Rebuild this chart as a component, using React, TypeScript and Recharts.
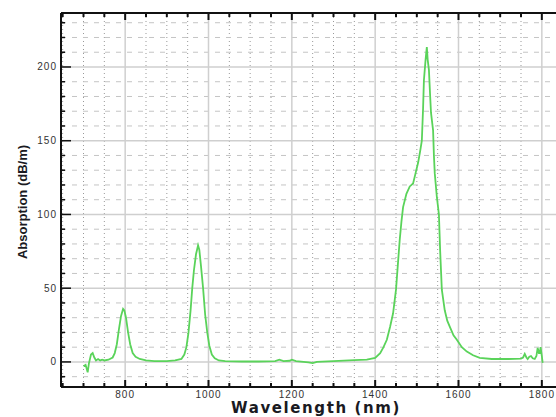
import React from 'react';
import { LineChart, Line, XAxis, YAxis, CartesianGrid } from 'recharts';

// absorption spectrum
const wavelengths = [
  700, 705, 710, 713, 718, 722, 726, 730, 735, 740, 745, 750, 760, 770, 775, 780, 785, 790, 795, 798,
  802, 807, 812, 818, 825, 835, 850, 870, 900, 920, 935, 942, 947, 952, 957, 961, 965, 970, 975, 978,
  982, 987, 992, 997, 1002, 1008, 1015, 1025, 1040, 1080, 1120, 1160, 1170, 1180, 1195, 1200, 1210, 1240, 1250, 1260,
  1300, 1350, 1380, 1400, 1412, 1420, 1428, 1436, 1443, 1450, 1455, 1459, 1463, 1467, 1475, 1483, 1491, 1497, 1503, 1508,
  1512, 1515, 1517, 1521, 1524, 1526, 1529, 1532, 1534, 1539, 1541, 1543, 1548, 1553, 1556, 1560, 1567, 1573, 1579, 1588,
  1596, 1608, 1620, 1635, 1651, 1680, 1720, 1750, 1755, 1759, 1763, 1766, 1770, 1774, 1778, 1783, 1787, 1790, 1793, 1795,
  1797, 1800, 1802,
];
const absorption = [
  -3, -2, -7, -1, 5, 6, 3, 1, 2, 1, 1.5, 1, 1.5, 3, 6, 12, 22, 31, 36, 35,
  30, 20, 12, 6, 3.5, 2, 1, 0.5, 0.5, 1, 2, 5, 10, 20, 35, 50, 62, 73, 79, 76,
  65, 50, 32, 20, 11, 5, 2.5, 1, 0.5, 0.3, 0.3, 0.5, 1.5, 0.6, 0.8, 1.5, 0.6, -0.3, -0.8, 0,
  0.6, 1.2, 1.5, 2.7, 6, 10, 15, 24, 33, 49, 68, 83, 95, 105, 114, 119, 121, 128, 135, 143,
  150, 172, 191, 205, 213.5, 205, 198, 180, 169, 157, 140, 128, 112, 100, 75, 49, 35, 28, 24, 18,
  15, 10, 7, 4.5, 2.7, 2, 2, 2.2, 3, 5.4, 3, 2, 3.5, 4, 2.5, 2, 4, 9.5, 6, 6,
  10, 4, -0.7,
];

const xTicks = Array.from({ length: 24 }, (_, i) => 650 + i * 50);
const yTicks = Array.from({ length: 25 }, (_, i) => -10 + i * 10);
const xMajor = [800, 1000, 1200, 1400, 1600, 1800];
const yMajor = [0, 50, 100, 150, 200];
const xMinor = xTicks.filter(v => v % 200 !== 0);
const yMinor = yTicks.filter(v => v % 50 !== 0);

const data = wavelengths.map((nm, i) => ({ nm, value: absorption[i] }));

const tickFont = { fontFamily: 'Liberation Sans, Arial, sans-serif', fontSize: 10, fill: '#333', letterSpacing: 1 };

const BottomTick = ({ x, y, payload }: any) => {
  const major = payload.value % 200 === 0;
  return (
    <g>
      <line x1={x} x2={x} y1={y} y2={y - (major ? 7 : 4)} stroke="#111" strokeWidth={2} />
      {major && <text x={x} y={y + 11} textAnchor="middle" {...tickFont}>{payload.value}</text>}
    </g>
  );
};

const TopTick = ({ x, y, payload }: any) => {
  const major = payload.value % 200 === 0;
  return <line x1={x} x2={x} y1={y} y2={y + (major ? 7 : 4)} stroke="#111" strokeWidth={2} />;
};

const LeftTick = ({ x, y, payload }: any) => {
  const major = payload.value % 50 === 0;
  return (
    <g>
      <line x1={x} x2={x + (major ? 10 : 4)} y1={y} y2={y} stroke="#111" strokeWidth={1.5} />
      {major && <text x={x - 4} y={y + 3.5} textAnchor="end" {...tickFont}>{payload.value}</text>}
    </g>
  );
};

export default function App() {
  return (
    <div style={{ position: 'absolute', left: 0, top: 0, width: 556, height: 417, background: '#fff', overflow: 'hidden' }}>
      <LineChart width={556} height={417} data={data} margin={{ top: 0, right: 0, bottom: 0, left: 0 }}>
        <CartesianGrid xAxisId="b" horizontal={false} verticalValues={xMinor} stroke="#999" strokeDasharray="1 3" />
        <CartesianGrid xAxisId="b" vertical={false} horizontalValues={yMinor} stroke="#c4c4c4" strokeDasharray="5 6" />
        <CartesianGrid xAxisId="b" verticalValues={xMajor} horizontalValues={yMajor} stroke="#cfcfcf" strokeWidth={1.5} />
        <XAxis xAxisId="b" type="number" dataKey="nm" domain={[646, 1834]} allowDataOverflow ticks={xTicks} interval={0}
          height={30} tickSize={0} tickMargin={0} tickLine={false} tick={<BottomTick />}
          axisLine={{ stroke: '#111', strokeWidth: 2 }} />
        <XAxis xAxisId="top" orientation="top" type="number" dataKey="nm" domain={[646, 1834]} allowDataOverflow ticks={xTicks} interval={0}
          height={13} tickSize={0} tickMargin={0} tickLine={false} tick={<TopTick />}
          axisLine={{ stroke: '#111', strokeWidth: 2 }} />
        <YAxis type="number" domain={[-17, 236.6]} allowDataOverflow ticks={yTicks} interval={0}
          width={61} tickSize={0} tickMargin={0} tickLine={false} tick={<LeftTick />}
          axisLine={{ stroke: '#111', strokeWidth: 2 }} />
        <Line xAxisId="b" type="linear" dataKey="value" stroke="#5ad35a" strokeWidth={1.8} dot={false} isAnimationActive={false} />
      </LineChart>
      <svg width={556} height={417} style={{ position: 'absolute', left: 0, top: 0, pointerEvents: 'none' }}>
        <text x={316} y={413} textAnchor="middle" fontFamily="DejaVu Sans, sans-serif" fontWeight="bold" fontSize={15}
          letterSpacing={1.6} fill="#1a1a22">Wavelength (nm)</text>
        <text transform="translate(27,202) rotate(-90)" textAnchor="middle" fontFamily="Liberation Sans, Arial, sans-serif"
          fontWeight="bold" fontSize={13} fill="#1a1a22">Absorption (dB/m)</text>
      </svg>
    </div>
  );
}
